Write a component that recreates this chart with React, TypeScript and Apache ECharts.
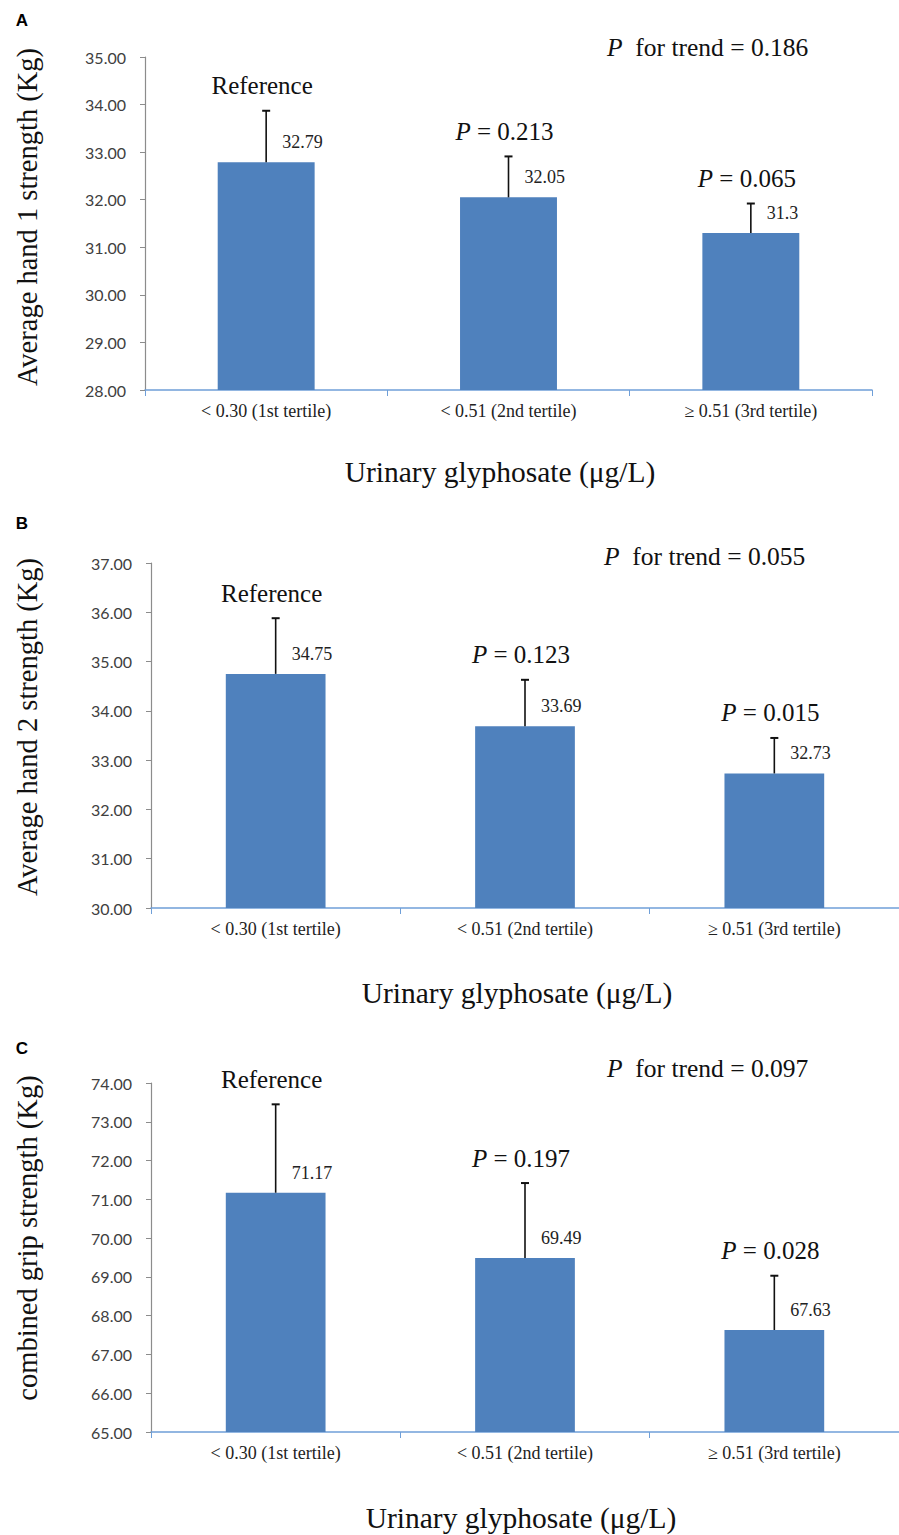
import React, { useEffect, useRef } from 'react';
import * as echarts from 'echarts';

const categories = ['< 0.30 (1st tertile)', '< 0.51 (2nd tertile)', '≥ 0.51 (3rd tertile)'];

const meansA = [32.79, 32.05, 31.3];
const upperA = [33.87, 32.91, 31.92];
const meansB = [34.75, 33.69, 32.73];
const upperB = [35.88, 34.63, 33.45];
const meansC = [71.17, 69.49, 67.63];
const upperC = [73.45, 71.42, 69.03];

const compareA = ['Reference', '0.213', '0.065'];
const compareB = ['Reference', '0.123', '0.015'];
const compareC = ['Reference', '0.197', '0.028'];

const trendP = ['0.186', '0.055', '0.097'];
const yTitles = ['Average hand 1 strength (Kg)', 'Average hand 2 strength (Kg)', 'combined grip strength (Kg)'];
const xTitle = 'Urinary glyphosate (μg/L)';
const panelLetters = ['A', 'B', 'C'];
const yMins = [28, 30, 65];
const yMaxs = [35, 37, 74];

const panels = [
  { means: meansA, upper: upperA, compare: compareA },
  { means: meansB, upper: upperB, compare: compareB },
  { means: meansC, upper: upperC, compare: compareC },
];

const SERIF = '"Liberation Serif", "Times New Roman", serif';

const grids = [
  { left: 145, top: 57, width: 727, height: 333 },
  { left: 151, top: 563, width: 756, height: 345 },
  { left: 151, top: 1083, width: 762, height: 349 },
];
const letterPos = [[22, 20], [22, 523], [22, 1048]];
const trendPos = [[607, 47], [604, 556], [607, 1068]];
const yTitlePos = [[27, 217], [27, 727], [27, 1238]];
const xTitlePos = [[500, 472], [517, 993], [521, 1518]];

export default function App() {
  const ref = useRef<HTMLDivElement>(null);
  useEffect(() => {
    document.body.style.margin = '0';
    const chart = echarts.init(ref.current!, null, { renderer: 'svg' });

    const xAxes = grids.map((_, g) => ({
      type: 'category',
      gridIndex: g,
      data: categories,
      axisLine: { show: true, lineStyle: { color: '#6f9fd8', width: 1.5 } },
      axisTick: { show: true, length: 6, lineStyle: { color: '#6f9fd8' } },
      axisLabel: { fontFamily: SERIF, fontSize: 18, color: '#222', margin: 12 },
    }));
    const yAxes = grids.map((_, g) => ({
      type: 'value',
      gridIndex: g,
      min: yMins[g],
      max: yMaxs[g],
      interval: 1,
      axisLine: { show: true, lineStyle: { color: '#8c8c8c', width: 1.2 } },
      axisTick: { show: true, length: 5, lineStyle: { color: '#8c8c8c' } },
      splitLine: { show: false },
      axisLabel: {
        fontFamily: 'Lato, "Noto Sans", sans-serif',
        fontSize: 16,
        color: '#404040',
        margin: 19,
        formatter: (v: number) => v.toFixed(2),
      },
    }));

    const series: any[] = [];
    panels.forEach((p, g) => {
      series.push({
        type: 'bar',
        xAxisIndex: g,
        yAxisIndex: g,
        data: p.means,
        barWidth: '40%',
        itemStyle: { color: '#4f81bd' },
      });
      series.push({
        type: 'custom',
        xAxisIndex: g,
        yAxisIndex: g,
        data: p.means.map((m, i) => [i, m, p.upper[i]]),
        encode: { x: 0, y: [1, 2] },
        z: 10,
        renderItem: (params: any, api: any) => {
          const idx = api.value(0);
          const base = api.coord([idx, api.value(1)]);
          const top = api.coord([idx, api.value(2)]);
          const x = base[0];
          const i = params.dataIndex;
          const cmp = p.compare[i];
          const cmpText = cmp === 'Reference' ? 'Reference' : '{i|P} = ' + cmp;
          return {
            type: 'group',
            children: [
              { type: 'line', shape: { x1: x, y1: base[1], x2: x, y2: top[1] }, style: { stroke: '#111', lineWidth: 1.6 } },
              { type: 'line', shape: { x1: x - 4, y1: top[1], x2: x + 4, y2: top[1] }, style: { stroke: '#111', lineWidth: 2 } },
              {
                type: 'text',
                x: x + 16,
                y: base[1] - 20,
                style: {
                  text: String(p.means[i]),
                  fontFamily: SERIF,
                  fontSize: 18,
                  fill: '#222',
                  align: 'left',
                  verticalAlign: 'middle',
                  textAlign: 'left',
                  textVerticalAlign: 'middle',
                },
              },
              {
                type: 'text',
                x: x - 4,
                y: top[1] - 25,
                style: {
                  text: cmpText,
                  fontFamily: SERIF,
                  fontSize: 25,
                  fill: '#111',
                  align: 'center',
                  verticalAlign: 'middle',
                  textAlign: 'center',
                  textVerticalAlign: 'middle',
                  rich: { i: { fontFamily: SERIF, fontSize: 25, fontStyle: 'italic', fill: '#111' } },
                },
              },
            ],
          };
        },
      });
    });

    const graphics: any[] = [];
    panels.forEach((_, g) => {
      graphics.push({
        type: 'text',
        x: letterPos[g][0],
        y: letterPos[g][1],
        style: {
          text: panelLetters[g],
          fontFamily: '"Liberation Sans", Arial, sans-serif',
          fontWeight: 'bold',
          fontSize: 17,
          fill: '#000',
          align: 'center',
          verticalAlign: 'middle',
          textAlign: 'center',
          textVerticalAlign: 'middle',
        },
      });
      graphics.push({
        type: 'text',
        x: trendPos[g][0],
        y: trendPos[g][1],
        style: {
          text: '{i|P}  for trend = ' + trendP[g],
          fontFamily: SERIF,
          fontSize: 25.5,
          fill: '#111',
          align: 'left',
          verticalAlign: 'middle',
          textAlign: 'left',
          textVerticalAlign: 'middle',
          rich: { i: { fontFamily: SERIF, fontSize: 25.5, fontStyle: 'italic', fill: '#111' } },
        },
      });
      graphics.push({
        type: 'text',
        x: yTitlePos[g][0],
        y: yTitlePos[g][1],
        rotation: Math.PI / 2,
        style: {
          text: yTitles[g],
          fontFamily: SERIF,
          fontSize: 28.5,
          fill: '#111',
          align: 'center',
          verticalAlign: 'middle',
          textAlign: 'center',
          textVerticalAlign: 'middle',
        },
      });
      graphics.push({
        type: 'text',
        x: xTitlePos[g][0],
        y: xTitlePos[g][1],
        style: {
          text: xTitle,
          fontFamily: SERIF,
          fontSize: 29.5,
          fill: '#111',
          align: 'center',
          verticalAlign: 'middle',
          textAlign: 'center',
          textVerticalAlign: 'middle',
        },
      });
    });

    chart.setOption({
      animation: false,
      backgroundColor: '#fff',
      grid: grids.map((g) => ({ ...g, containLabel: false })),
      xAxis: xAxes,
      yAxis: yAxes,
      series,
      graphic: graphics,
    });
    return () => chart.dispose();
  }, []);
  return <div ref={ref} style={{ width: 899, height: 1535 }} />;
}
